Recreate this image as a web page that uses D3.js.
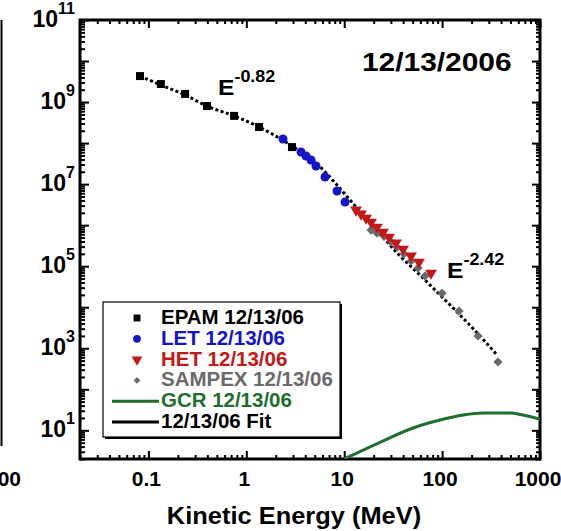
<!DOCTYPE html>
<html>
<head>
<meta charset="utf-8">
<script src="https://d3js.org/d3.v7.min.js"></script>
<style>
  body { margin:0; background:#fff; }
  text { font-family: "Liberation Sans", Arial, Helvetica, sans-serif; font-weight: bold; }
</style>
</head>
<body>
<script>
// values (energy in MeV, flux)
var epamE    = [0.082, 0.134, 0.237, 0.396, 0.75, 1.35, 2.93];
var epamFlux = [4.3e9, 2.75e9, 1.58e9, 8.0e8, 4.6e8, 2.47e8, 8.0e7];

var letE    = [2.37, 3.62, 4.07, 4.58, 5.15, 6.37, 8.44, 10.2];
var letFlux = [1.26e8, 6.07e7, 4.84e7, 3.87e7, 2.77e7, 1.49e7, 6.8e6, 3.66e6];

var hetE    = [13.2, 14.85, 16.7, 18.8, 21.6, 24.9, 28.7, 33.8, 39.9, 48.1, 58.1, 77.0];
var hetFlux = [2.34e6, 1.87e6, 1.49e6, 1.19e6, 9.0e5, 6.8e5, 5.1e5, 3.67e5, 2.62e5, 1.77e5, 1.26e5, 6.8e4];

var sampexE    = [18.8, 21.6, 25.5, 30.1, 34.6, 40.8, 48.1, 56.8, 66.9, 99.8, 149, 233, 372];
var sampexFlux = [7.6e5, 6.4e5, 5.4e5, 3.9e5, 2.9e5, 1.98e5, 1.34e5, 9.0e4, 5.8e4, 2.2e4, 8.1e3, 1.99e3, 462];

var gcrE    = [10, 23.2, 50.5, 95.2, 164, 262, 494, 670, 1000];
var gcrFlux = [2.0, 5.1, 11.4, 17.8, 23.6, 26.4, 26.4, 23.6, 18.8];

var fitE    = [0.082, 0.134, 0.237, 0.396, 0.75, 1.35, 2.93, 5.03, 8.44, 13.5, 23.2, 37.2, 59.4, 95.2, 152, 244, 364];
var fitFlux = [4.3e9, 2.6e9, 1.49e9, 8.0e8, 4.6e8, 2.47e8, 8.5e7, 3.46e7, 9.5e6, 2.6e6, 6.1e5, 1.77e5, 6.1e4, 1.99e4, 6.5e3, 1.99e3, 684];

var xTickValues = [0.1, 1, 10, 100, 1000];
var xTickLabels = ["0.1", "1", "10", "100", "1000"];
var yLabelExps  = [1, 3, 5, 7, 9, 11];

var legendNames  = ["EPAM 12/13/06", "LET 12/13/06", "HET 12/13/06", "SAMPEX 12/13/06", "GCR 12/13/06", "12/13/06 Fit"];
var legendColors = ["#000", "#1414c8", "#c41818", "#6a6a6a", "#1f6e2e", "#000"];

var width = 561, height = 531;
var pL = 80, pR = 540, pT = 20, pB = 459;

var x = d3.scaleLog().domain([0.02, 1000]).range([pL, pR]);
var y = d3.scaleLog().domain([2, 1e11]).range([pB, pT]);

var svg = d3.select("body").append("svg")
    .attr("width", width)
    .attr("height", height);

svg.append("rect").attr("width", width).attr("height", height).attr("fill", "#fff");

// bit of the neighbouring panel at the left edge
svg.append("line").attr("x1", 1.5).attr("x2", 1.5).attr("y1", 20).attr("y2", 446)
    .attr("stroke", "#000").attr("stroke-width", 2);
svg.append("text").attr("x", 21).attr("y", 486).attr("text-anchor", "end")
    .attr("font-size", 21).text("1000");

// tick values
var majorX = [], minorX = [];
for (var n = -2; n <= 3; n++) {
    for (var k = 1; k <= 9; k++) {
        var v = k * Math.pow(10, n);
        if (v < 0.02 || v > 1000) continue;
        (k === 1 ? majorX : minorX).push(v);
    }
}
var majorY = [], minorY = [];
for (var n = 0; n <= 11; n++) {
    for (var k = 1; k <= 9; k++) {
        var v = k * Math.pow(10, n);
        if (v < 2 || v > 1e11) continue;
        (k === 1 ? majorY : minorY).push(v);
    }
}

function tickAxis(axis, tx, ty) {
    var g = svg.append("g")
        .attr("transform", "translate(" + tx + "," + ty + ")")
        .call(axis);
    g.select(".domain").remove();
    g.selectAll("line").attr("stroke-width", 2);
}

tickAxis(d3.axisBottom(x).tickValues(majorX).tickSizeInner(-8).tickSizeOuter(0).tickFormat(""), 0, pB);
tickAxis(d3.axisBottom(x).tickValues(minorX).tickSizeInner(-4).tickSizeOuter(0).tickFormat(""), 0, pB);
tickAxis(d3.axisTop(x).tickValues(majorX).tickSizeInner(-8).tickSizeOuter(0).tickFormat(""), 0, pT);
tickAxis(d3.axisTop(x).tickValues(minorX).tickSizeInner(-4).tickSizeOuter(0).tickFormat(""), 0, pT);
tickAxis(d3.axisLeft(y).tickValues(majorY).tickSizeInner(-9).tickSizeOuter(0).tickFormat(""), pL, 0);
tickAxis(d3.axisLeft(y).tickValues(minorY).tickSizeInner(-5).tickSizeOuter(0).tickFormat(""), pL, 0);
tickAxis(d3.axisRight(y).tickValues(majorY).tickSizeInner(-8).tickSizeOuter(0).tickFormat(""), pR, 0);
tickAxis(d3.axisRight(y).tickValues(minorY).tickSizeInner(-4).tickSizeOuter(0).tickFormat(""), pR, 0);

// frame
svg.append("rect")
    .attr("x", pL).attr("y", pT)
    .attr("width", pR - pL).attr("height", pB - pT)
    .attr("fill", "none").attr("stroke", "#000").attr("stroke-width", 3);

// x tick labels
svg.selectAll(".xlab").data(xTickValues).enter().append("text")
    .attr("x", function (d) { return x(d) - 2; })
    .attr("y", 486)
    .attr("text-anchor", "middle")
    .attr("font-size", 21)
    .text(function (d, i) { return xTickLabels[i]; });

// y tick labels 10^n
var ylab = svg.selectAll(".ylab").data(yLabelExps).enter().append("text")
    .attr("x", 75)
    .attr("y", function (d) { return y(Math.pow(10, d)) + 7; })
    .attr("text-anchor", "end")
    .attr("font-size", 23);
ylab.append("tspan").text("10");
ylab.append("tspan").attr("dy", -13).attr("font-size", 16).text(function (d) { return d; });

// axis title
svg.append("text")
    .attr("transform", "translate(294,524) scale(1.06,1)")
    .attr("text-anchor", "middle")
    .attr("font-size", 24)
    .text("Kinetic Energy (MeV)");

// chart title
svg.append("text")
    .attr("transform", "translate(362,71) scale(1.15,1)")
    .attr("font-size", 26)
    .text("12/13/2006");

// data area
svg.append("clipPath").attr("id", "plot-clip")
    .append("rect").attr("x", pL).attr("y", pT)
    .attr("width", pR - pL).attr("height", pB - pT);
var plot = svg.append("g").attr("clip-path", "url(#plot-clip)");

var line = d3.line()
    .x(function (d) { return x(d[0]); })
    .y(function (d) { return y(d[1]); })
    .curve(d3.curveMonotoneX);

plot.append("path")
    .datum(gcrE.map(function (e, i) { return [e, gcrFlux[i]]; }))
    .attr("d", line)
    .attr("fill", "none")
    .attr("stroke", "#1f6e2e")
    .attr("stroke-width", 3);

plot.append("path")
    .datum(fitE.map(function (e, i) { return [e, fitFlux[i]]; }))
    .attr("d", line)
    .attr("fill", "none")
    .attr("stroke", "#000")
    .attr("stroke-width", 3)
    .attr("stroke-dasharray", "3,2.5");

function markers(es, fs, shape, size, color, rot) {
    plot.append("g").selectAll("path")
        .data(es.map(function (e, i) { return [e, fs[i]]; }))
        .enter().append("path")
        .attr("transform", function (d) {
            return "translate(" + x(d[0]) + "," + y(d[1]) + ") rotate(" + rot + ")";
        })
        .attr("d", d3.symbol().type(shape).size(size))
        .attr("fill", color);
}

markers(epamE, epamFlux, d3.symbolSquare, 64, "#000", 0);
markers(letE, letFlux, d3.symbolCircle, 64, "#1414c8", 0);
markers(sampexE, sampexFlux, d3.symbolSquare, 42, "#6a6a6a", 45);
markers(hetE, hetFlux, d3.symbolTriangle, 60, "#c41818", 180);

// exponents on the fit
function powerLabel(px, py, exp) {
    var t = svg.append("text")
        .attr("transform", "translate(" + px + "," + py + ") scale(1.12,1)")
        .attr("font-size", 22);
    t.append("tspan").text("E");
    t.append("tspan").attr("dy", -13).attr("font-size", 16).text(exp);
}
powerLabel(218, 95, "-0.82");
powerLabel(447, 278, "-2.42");

// legend
var lg = svg.append("g");
lg.append("rect").attr("x", 105).attr("y", 304).attr("width", 237).attr("height", 135).attr("fill", "#000");
lg.append("rect").attr("x", 103).attr("y", 302).attr("width", 237).attr("height", 135)
    .attr("fill", "#fff").attr("stroke", "#000").attr("stroke-width", 1.2);

var rowY = function (i) { return 324 + i * 20.8; };
var legendShapes = [d3.symbolSquare, d3.symbolCircle, d3.symbolTriangle, d3.symbolSquare];
var legendSizes = [48, 48, 50, 22];
var legendRot = [0, 0, 180, 45];
legendShapes.forEach(function (s, i) {
    lg.append("path")
        .attr("transform", "translate(137," + (rowY(i) - 6) + ") rotate(" + legendRot[i] + ")")
        .attr("d", d3.symbol().type(s).size(legendSizes[i]))
        .attr("fill", legendColors[i]);
});
[4, 5].forEach(function (i) {
    lg.append("line").attr("x1", 112).attr("x2", 159)
        .attr("y1", rowY(i) - 6).attr("y2", rowY(i) - 6)
        .attr("stroke", legendColors[i]).attr("stroke-width", 3);
});
legendNames.forEach(function (name, i) {
    lg.append("text")
        .attr("transform", "translate(161," + rowY(i) + ") scale(1.05,1)")
        .attr("font-size", 19.5)
        .attr("fill", legendColors[i])
        .text(name);
});
</script>
</body>
</html>
